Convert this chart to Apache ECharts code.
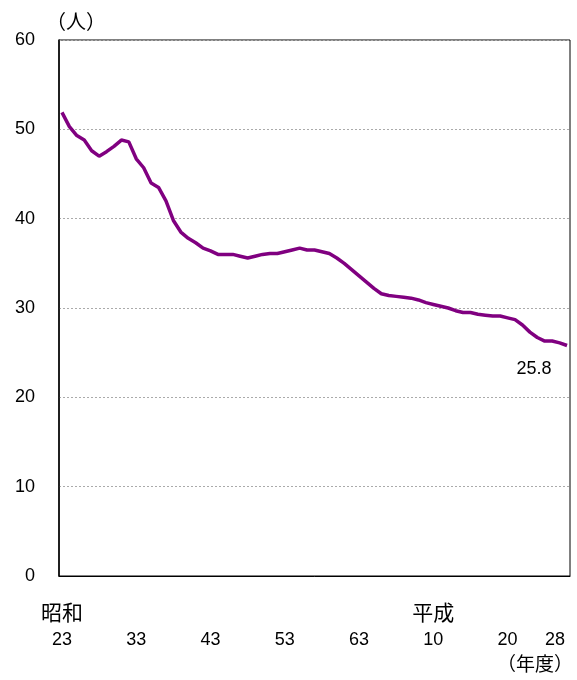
<!DOCTYPE html>
<html>
<head>
<meta charset="utf-8">
<script src="https://cdn.jsdelivr.net/npm/echarts@6/dist/echarts.min.js"></script>
<style>html,body{margin:0;padding:0;background:#fff;}#c{width:577px;height:680px;}</style>
</head>
<body>
<div id="c"></div>
<script>
// Fiscal years (Showa 23 = 1948 ... Heisei 28 = 2016)
var years = [1948,1949,1950,1951,1952,1953,1954,1955,1956,1957,
             1958,1959,1960,1961,1962,1963,1964,1965,1966,1967,
             1968,1969,1970,1971,1972,1973,1974,1975,1976,1977,
             1978,1979,1980,1981,1982,1983,1984,1985,1986,1987,
             1988,1989,1990,1991,1992,1993,1994,1995,1996,1997,
             1998,1999,2000,2001,2002,2003,2004,2005,2006,2007,
             2008,2009,2010,2011,2012,2013,2014,2015,2016];
// Values (persons)
var values = [51.9,50.3,49.3,48.8,47.6,47.0,47.5,48.1,48.8,48.6,
              46.7,45.7,44.0,43.5,42.0,39.8,38.5,37.8,37.3,36.7,
              36.4,36.0,36.0,36.0,35.8,35.6,35.8,36.0,36.1,36.1,
              36.3,36.5,36.7,36.5,36.5,36.3,36.1,35.6,35.0,34.3,
              33.6,32.9,32.2,31.6,31.4,31.3,31.2,31.1,30.9,30.6,
              30.4,30.2,30.0,29.7,29.5,29.5,29.3,29.2,29.1,29.1,
              28.9,28.7,28.1,27.3,26.7,26.3,26.3,26.1,25.8];
// Axis tick labels
var tickYears = [1948,1958,1968,1978,1988,1998,2008,2016];
var tickLabels = ['23','33','43','53','63','10','20','28'];
var eraLabels = ['昭和','','','','','平成','',''];
var yTicks = [0,10,20,30,40,50,60];

var FONT = "'Liberation Sans','Noto Sans CJK JP',sans-serif";
var CJK = "'Noto Sans CJK JP',sans-serif";

var data = years.map(function (y, i) { return [y, values[i]]; });

var chart = echarts.init(document.getElementById('c'), null, { renderer: 'canvas' });
chart.setOption({
  animation: false,
  backgroundColor: '#fff',
  grid: { left: 59, right: 7, top: 40, bottom: 104, outerBoundsMode: 'none', containLabel: false,
          show: true, borderColor: '#000', borderWidth: 1, backgroundColor: 'transparent' },
  xAxis: {
    type: 'value',
    min: 1947.6, max: 2016.4,
    name: '（年度）',
    nameLocation: 'end',
    nameGap: 3,
    nameTextStyle: { fontSize: 19, color: '#000', fontFamily: CJK, align: 'right', verticalAlign: 'top', padding: [78, 0, 0, 0] },
    splitLine: { show: false },
    axisLine: { show: true, lineStyle: { color: '#000', width: 1 } },
    axisTick: { show: false },
    axisLabel: {
      customValues: tickYears,
      margin: 22,
      color: '#000',
      hideOverlap: false,
      showMaxLabel: true,
      showMinLabel: true,
      formatter: function (v) {
        var idx = tickYears.indexOf(v);
        if (idx < 0) return '';
        var era = eraLabels[idx];
        var last = idx === tickYears.length - 1;
        return '{e|' + (era || ' ') + '}\n' +
               (last ? '{nl|' + tickLabels[idx] + '}' : '{n|' + tickLabels[idx] + '}');
      },
      rich: {
        e: { fontSize: 21, lineHeight: 28, fontFamily: CJK, color: '#000' },
        n: { fontSize: 18, lineHeight: 28, fontFamily: FONT, color: '#000' },
        nl: { fontSize: 18, lineHeight: 28, fontFamily: FONT, color: '#000', padding: [0, 24, 0, 0] }
      }
    }
  },
  yAxis: {
    type: 'value',
    min: 0, max: 60, interval: 10,
    name: '（人）',
    nameLocation: 'end',
    nameGap: 9,
    nameTextStyle: { fontSize: 20, color: '#000', fontFamily: CJK, padding: [0, 0, 0, 34] },
    axisLine: { show: true, lineStyle: { color: '#000', width: 1.5 } },
    axisTick: { show: false },
    axisLabel: { fontSize: 18, color: '#000', fontFamily: FONT, margin: 24,
      formatter: function (v) { return yTicks.indexOf(v) >= 0 ? String(v) : ''; } },
    splitLine: { show: true, lineStyle: { color: '#aaa', type: [2, 2], width: 1 } }
  },
  series: [{
    type: 'line',
    data: data,
    showSymbol: false,
    smooth: false,
    lineStyle: { color: '#800080', width: 3.5 },
    itemStyle: { color: '#800080' },
    endLabel: {
      show: true,
      formatter: function (p) { return p.value[1].toFixed(1); },
      align: 'center', verticalAlign: 'middle', distance: 0, offset: [-33, 24],
      fontSize: 18, color: '#000', fontFamily: FONT
    }
  }]
});
</script>
</body>
</html>
